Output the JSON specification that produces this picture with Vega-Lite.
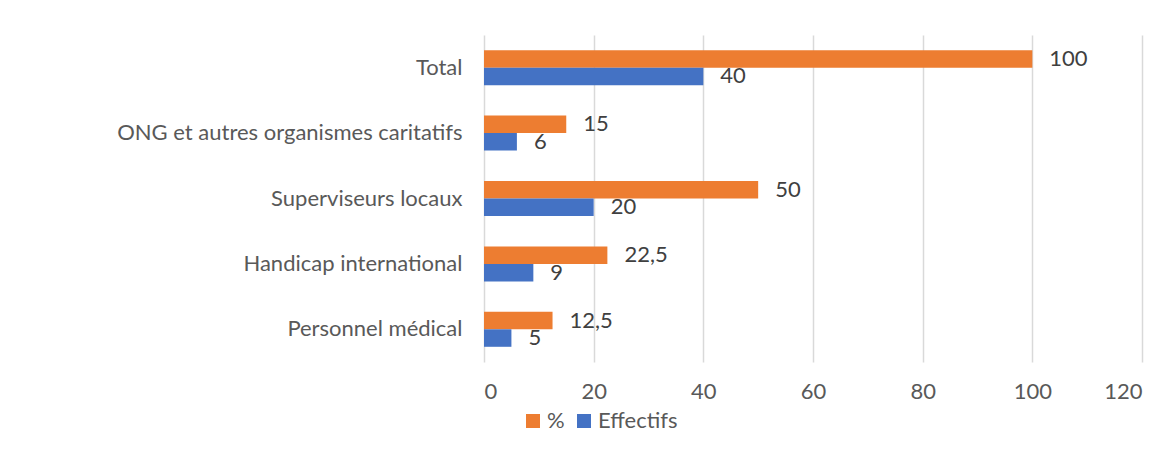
{
  "$schema": "https://vega.github.io/schema/vega-lite/v6.json",
  "width": 658,
  "height": 327,
  "autosize": {"type": "none"},
  "padding": {"left": 484, "top": 35, "right": 30, "bottom": 88},
  "background": "white",
  "config": {"view": {"stroke": null}, "font": "Lato"},
  "data": {
    "values": [
      {"cat": "Total", "series": "%", "value": 100, "label": "100"},
      {"cat": "Total", "series": "Effectifs", "value": 40, "label": "40"},
      {"cat": "ONG et autres organismes caritatifs", "series": "%", "value": 15, "label": "15"},
      {"cat": "ONG et autres organismes caritatifs", "series": "Effectifs", "value": 6, "label": "6"},
      {"cat": "Superviseurs locaux", "series": "%", "value": 50, "label": "50"},
      {"cat": "Superviseurs locaux", "series": "Effectifs", "value": 20, "label": "20"},
      {"cat": "Handicap international", "series": "%", "value": 22.5, "label": "22,5"},
      {"cat": "Handicap international", "series": "Effectifs", "value": 9, "label": "9"},
      {"cat": "Personnel médical", "series": "%", "value": 12.5, "label": "12,5"},
      {"cat": "Personnel médical", "series": "Effectifs", "value": 5, "label": "5"}
    ]
  },
  "encoding": {
    "y": {
      "field": "cat",
      "type": "nominal",
      "sort": ["Total", "ONG et autres organismes caritatifs", "Superviseurs locaux", "Handicap international", "Personnel médical"],
      "scale": {"paddingInner": 0.465, "paddingOuter": 0.2325},
      "axis": {"title": null, "domain": false, "ticks": false, "grid": false, "labelPadding": 22, "labelLimit": 0, "labelFontSize": 22, "labelFont": "Lato", "labelColor": "#595959"}
    },
    "yOffset": {"field": "series", "type": "nominal", "sort": ["%", "Effectifs"]},
    "x": {
      "field": "value",
      "type": "quantitative",
      "scale": {"domain": [0, 120]},
      "axis": {"title": null, "values": [0, 20, 40, 60, 80, 100, 120], "domain": false, "ticks": false, "grid": true, "gridColor": "#D9D9D9", "gridWidth": 1.5, "labelPadding": 19, "labelFontSize": 22, "labelFont": "Lato", "labelColor": "#595959"}
    }
  },
  "layer": [
    {
      "mark": {"type": "bar"},
      "encoding": {
        "color": {
          "field": "series",
          "type": "nominal",
          "scale": {"domain": ["%", "Effectifs"], "range": ["#ED7D31", "#4472C4"]},
          "legend": {"orient": "none", "legendX": 38, "legendY": 375, "direction": "horizontal", "title": null, "symbolType": "square", "symbolSize": 196, "symbolStrokeWidth": 0, "labelFontSize": 22, "labelFont": "Lato", "labelColor": "#595959", "columnPadding": 8, "labelOffset": 3}
        }
      }
    },
    {
      "mark": {"type": "text", "align": "left", "baseline": "middle", "dx": 17, "fontSize": 22, "font": "Lato", "color": "#404040"},
      "encoding": {"text": {"field": "label"}}
    }
  ]
}
